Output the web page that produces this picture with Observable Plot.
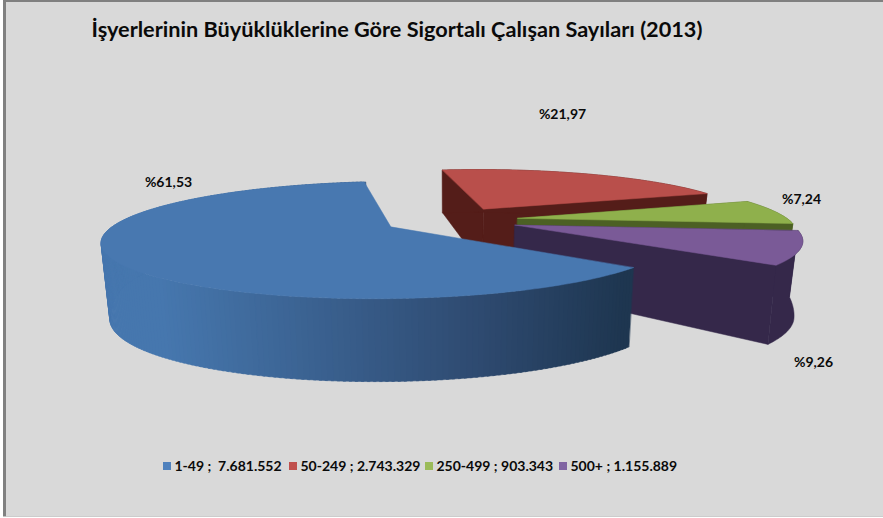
<!DOCTYPE html>
<html><head><meta charset="utf-8">
<script src="https://cdn.jsdelivr.net/npm/d3@7"></script>
<script src="https://cdn.jsdelivr.net/npm/@observablehq/plot@0.6"></script>
<style>html,body{margin:0;padding:0;background:#fff;overflow:hidden}svg{display:block}</style>
</head><body>
<script>
// Data
const categories = ["1-49", "50-249", "250-499", "500+"];
const shares = [61.53, 21.97, 7.24, 9.26];
const countLabels = ["7.681.552", "2.743.329", "903.343", "1.155.889"];
const shareLabels = ["%61,53", "%21,97", "%7,24", "%9,26"];
const titleText = "İşyerlerinin Büyüklüklerine Göre Sigortalı Çalışan Sayıları (2013)";
// Styles
const topColors = ["#4878b0", "#b94f4b", "#8fb04c", "#7a5a97"];
const sideColors = [null, "#541d19", "#4c6024", "#35284a"];
const legendColors = ["#4f81bd", "#c0504d", "#9bbb59", "#8064a2"];
const FONT = "Lato, Carlito, sans-serif";
const W = 883, H = 518;
// Camera of the 3D pie
const cam = {X0: 451, Y0: 220, S: 271, T: 52.6, k: 0.22, q: 0.025, e: 0.25, start: 129};
const depth = d3.scaleLinear().domain([-1.14, -0.4, -0.1, 0.86]).range([83, 76, 62, 48]);
const rad = d => d * Math.PI / 180;
function project(u, v, z) {
  const p = 1 / (1 + cam.k * v);
  return [cam.X0 + cam.S * u * p * (1 - cam.q * z), cam.Y0 - cam.T * v * p + depth(v) * z];
}
// Slices from values
let acc = cam.start;
const total = d3.sum(shares);
const slices = shares.map((s, i) => {
  const a0 = acc, a1 = acc + s / total * 360; acc = a1;
  const mid = rad((a0 + a1) / 2);
  const ox = cam.e * Math.sin(mid), oy = cam.e * Math.cos(mid);
  const at = (deg, z, r = 1) => project(ox + r * Math.sin(rad(deg)), oy + r * Math.cos(rad(deg)), z);
  return {i, a0, a1, at};
});
const bladeGradient = d3.scaleLinear()
  .domain([160, 480, 625]).range(["#4677ae", "#2e4a70", "#1e3650"]).clamp(true);

const layers = [[],[],[],[]];
for (const sl of slices) {
  const rows = layers[sl.i];
  const push = (pts1, pts2, color) => {
    const id = sl.i + "-" + rows.length;
    pts1.forEach((p, j) => rows.push({id, x1: p[0], y1: p[1], x2: pts2[j][0], y2: pts2[j][1], color}));
  };
  const n = Math.ceil(sl.a1 - sl.a0);
  const angles = d3.range(n + 1).map(j => sl.a0 + (sl.a1 - sl.a0) * j / n);
  if (sl.i > 0) {
    for (const ang of [sl.a0, sl.a1]) {
      push([sl.at(ang, 0, 0), sl.at(ang, 0)], [sl.at(ang, 1, 0), sl.at(ang, 1)], sideColors[sl.i]);
    }
    push(angles.map(a => sl.at(a, 0)), angles.map(a => sl.at(a, 1)), sideColors[sl.i]);
  } else {
    for (let j = 0; j < n; j++) {
      const a = angles[j], b = angles[j + 1];
      const c = bladeGradient(sl.at((a + b) / 2, 0)[0]);
      push([sl.at(a, 0), sl.at(b + 0.4, 0)], [sl.at(a, 1), sl.at(b + 0.4, 1)], c);
    }
  }
  const apex = sl.at(sl.a0, 0, 0);
  push(angles.map(() => apex), angles.map(a => sl.at(a, 0)), topColors[sl.i]);
}
// painter's order: back slices first, the big front slice last
const pieMarks = [1, 2, 3, 0].map(i => Plot.area(layers[i], {
  x1: "x1", y1: "y1", x2: "x2", y2: "y2", z: "id", fill: "color", stroke: "color", strokeWidth: 0.5, curve: "linear"
}));

const panel = [{x1: 3, x2: W, y1: 0, y2: 516.5, fill: "#808080"}, {x1: 6, x2: W, y1: 2, y2: 516.5, fill: "#d9d9d9"}];
const labelPos = [[168, 182], [562, 114], [801, 199], [813, 362]];
const labelRows = shareLabels.map((t, i) => ({t, x: labelPos[i][0], y: labelPos[i][1]}));
const legendX = [163, 289, 425, 559];
const legendRows = categories.map((c, i) => ({
  c, x: legendX[i], color: legendColors[i],
  t: c + " ; " + (i === 0 ? "\u00a0" : "") + countLabels[i]
}));

const chart = Plot.plot({
  width: W, height: H, margin: 0,
  x: {domain: [0, W], range: [0, W], axis: null},
  y: {domain: [0, H], range: [0, H], axis: null},
  style: {background: "#fff"},
  marks: [
    Plot.rect(panel, {x1: "x1", x2: "x2", y1: "y1", y2: "y2", fill: "fill"}),
    ...pieMarks,
    Plot.text([titleText], {x: 91, y: 30, text: d => d, textAnchor: "start", fontFamily: FONT, fontWeight: 700, fontSize: 21.7, fill: "#0a0a0a"}),
    Plot.text(labelRows, {x: "x", y: "y", text: "t", fontFamily: FONT, fontWeight: 700, fontSize: 14, fill: "#0a0a0a"}),
    Plot.rect(legendRows, {x1: "x", x2: d => d.x + 8, y1: 462, y2: 470, fill: "color"}),
    Plot.text(legendRows, {x: d => d.x + 11, y: 466, text: "t", textAnchor: "start", fontFamily: FONT, fontWeight: 700, fontSize: 14, fill: "#0a0a0a"})
  ]
});
document.body.appendChild(chart);
</script>
</body></html>
